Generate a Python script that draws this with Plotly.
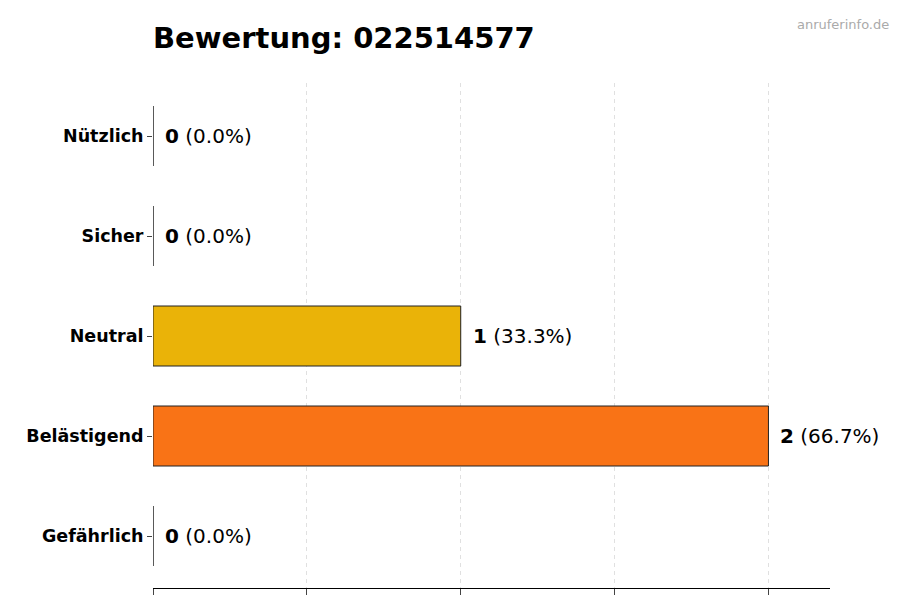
import plotly.graph_objects as go

categories = ["Gefährlich", "Belästigend", "Neutral", "Sicher", "Nützlich"]
values = [0, 2, 1, 0, 0]
colors = ["#d62728", "#f97316", "#eab308", "#84cc16", "#22c55e"]
total = sum(values)

fig = go.Figure()
fig.add_trace(go.Bar(
    y=categories, x=values, orientation="h", width=0.6,
    marker=dict(color=colors, line=dict(color="#222222", width=1)),
    hoverinfo="skip",
))
for c, v in zip(categories, values):
    fig.add_annotation(x=v, y=c, xref="x", yref="y", xanchor="left", xshift=10,
                       text=f"<b>{v}</b> ({v / total * 100:.1f}%)", showarrow=False,
                       font=dict(size=20, color="black"))

fig.update_layout(
    width=900, height=600, plot_bgcolor="white", paper_bgcolor="white",
    margin=dict(l=145, r=78, t=75, b=20),
    font=dict(family="DejaVu Sans", color="black"),
    showlegend=False,
    title=dict(text="<b>Bewertung: 022514577</b>", x=145 / 900, xanchor="left",
               y=1 - 30 / 600, yanchor="middle", font=dict(size=29)),
    xaxis=dict(range=[0, 2.2], tickvals=[0, 0.5, 1, 1.5, 2], showticklabels=False,
               ticks="outside", ticklen=6, showgrid=True, gridcolor="#e0e0e0",
               griddash="4px,4px", showline=True, linecolor="black", zeroline=False,
               automargin=False),
    yaxis=dict(range=[-0.52, 4.53], ticks="outside", ticklen=5, showline=False,
               tickfont=dict(size=17.5), showgrid=False, automargin=False,
               tickvals=categories, ticktext=[f"<b>{c}</b>" for c in categories]),
)
fig.add_annotation(x=1, y=1, xref="paper", yref="paper", xanchor="right", yanchor="top",
                   xshift=61, yshift=68, text="anruferinfo.de", showarrow=False,
                   font=dict(size=13, color="#aaaaaa"))
fig.write_html("out.html")
